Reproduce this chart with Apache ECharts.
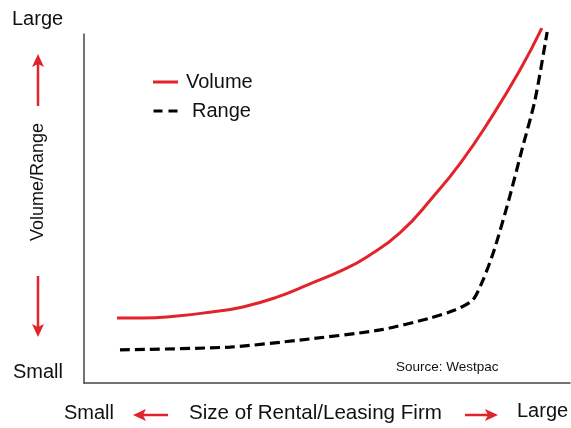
<!DOCTYPE html>
<html>
<head>
<meta charset="utf-8">
<script src="https://cdn.jsdelivr.net/npm/echarts@6/dist/echarts.min.js"></script>
<style>
  html, body { margin: 0; padding: 0; background: #fff; }
  #chart { width: 571px; height: 428px; }
</style>
</head>
<body>
<div id="chart"></div>
<script>
// curve points (x: firm size 0-100, y: volume/range 0-100)
const volumeX = [6.8, 12.1, 19.1, 25.9, 32.7, 39.7, 46.5, 53.3, 58.2, 65.0, 71.8, 77.6, 83.5, 89.7, 94.2];
const volumeY = [18.6, 18.6, 19.2, 20.3, 21.8, 24.6, 28.4, 32.4, 36.1, 43.0, 53.3, 63.3, 75.4, 89.7, 101.7];
const rangeX = [7.4, 30.0, 44.4, 60.9, 71.2, 76.3, 80.0, 82.1, 84.4, 87.4, 90.1, 92.8, 95.3];
const rangeY = [9.5, 10.3, 12.3, 15.2, 18.6, 20.9, 23.8, 29.5, 38.1, 52.4, 66.8, 81.1, 100.6];

const seriesNames = ['Volume', 'Range'];
const RED = '#e3232b';
const FONT = 'Arial, "Liberation Sans", sans-serif';

const zip = (xs, ys) => xs.map((x, i) => [x, ys[i]]);

// arrow shape: shaft + head
function arrow(x1, y1, x2, y2) {
  const ang = Math.atan2(y2 - y1, x2 - x1);
  const len = 13, half = 6, back = 3;
  const bx = x2 - len * Math.cos(ang), by = y2 - len * Math.sin(ang);
  const nx = -Math.sin(ang), ny = Math.cos(ang);
  const ix = x2 - (len - back) * Math.cos(ang), iy = y2 - (len - back) * Math.sin(ang);
  return [
    { type: 'line', shape: { x1: x1, y1: y1, x2: ix, y2: iy }, style: { stroke: RED, lineWidth: 2.5 } },
    { type: 'polygon', shape: { points: [[x2, y2], [bx + nx * half, by + ny * half], [ix, iy], [bx - nx * half, by - ny * half]] },
      style: { fill: RED } }
  ];
}

const chart = echarts.init(document.getElementById('chart'));

const option = {
  backgroundColor: '#fff',
  animation: false,
  grid: { left: 84, top: 34, right: 1, bottom: 45 },
  legend: {
    orient: 'vertical',
    left: 148,
    top: 67,
    itemWidth: 25,
    itemHeight: 3,
    itemGap: 9,
    data: [
      { name: seriesNames[0], icon: 'rect', textStyle: { padding: [0, 0, 0, 3] } },
      { name: seriesNames[1], icon: 'path://M0,0H9V3H0Z M15,0H24V3H15Z', textStyle: { padding: [0, 0, 0, 9] } }
    ],
    textStyle: { fontFamily: FONT, fontSize: 20, color: '#111' }
  },
  xAxis: {
    type: 'value', min: 0, max: 100,
    axisLine: { show: true, lineStyle: { color: '#444', width: 1.5 } },
    axisTick: { show: false }, axisLabel: { show: false }, splitLine: { show: false }
  },
  yAxis: {
    type: 'value', min: 0, max: 100,
    axisLine: { show: true, lineStyle: { color: '#444', width: 1.5 } },
    axisTick: { show: false }, axisLabel: { show: false }, splitLine: { show: false }
  },
  series: [
    {
      name: seriesNames[0], type: 'line', data: zip(volumeX, volumeY),
      smooth: 0.5, symbol: 'none', clip: false,
      lineStyle: { color: RED, width: 3 }, itemStyle: { color: RED }
    },
    {
      name: seriesNames[1], type: 'line', data: zip(rangeX, rangeY),
      smooth: 0.25, symbol: 'none', clip: false,
      lineStyle: { color: '#000', width: 3.2, type: [10, 5] }, itemStyle: { color: '#000' }
    }
  ],
  graphic: [
    { type: 'text', left: 12, top: 9, style: { text: 'Large', font: '20px ' + FONT, fill: '#111' } },
    { type: 'text', left: 13, top: 362, style: { text: 'Small', font: '20px ' + FONT, fill: '#111' } },
    { type: 'text', x: 38, y: 182, rotation: Math.PI / 2,
      style: { text: 'Volume/Range', font: '18px ' + FONT, fill: '#111', align: 'center', verticalAlign: 'middle' } },
    { type: 'group', children: arrow(38, 106, 38, 54) },
    { type: 'group', children: arrow(38, 276, 38, 337) },
    { type: 'text', left: 64, top: 403, style: { text: 'Small', font: '20px ' + FONT, fill: '#111' } },
    { type: 'group', children: arrow(168, 415, 133, 415) },
    { type: 'text', left: 189, top: 403, style: { text: 'Size of Rental/Leasing Firm', font: '20.6px ' + FONT, fill: '#111' } },
    { type: 'group', children: arrow(465, 415, 498, 415) },
    { type: 'text', left: 517, top: 401, style: { text: 'Large', font: '20px ' + FONT, fill: '#111' } },
    { type: 'text', left: 396, top: 360, style: { text: 'Source: Westpac', font: '13.5px ' + FONT, fill: '#111' } }
  ]
};

chart.setOption(option);
window.addEventListener('resize', () => chart.resize());
</script>
</body>
</html>
